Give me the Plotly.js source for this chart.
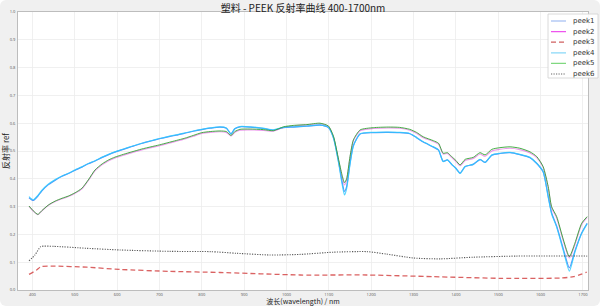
<!DOCTYPE html>
<html><head><meta charset="utf-8">
<script src="https://cdn.plot.ly/plotly-3.0.1.min.js"></script>
<style>html,body{margin:0;padding:0;background:#fff}#c{width:600px;height:306px;border-radius:6px;overflow:hidden}</style>
</head><body><div id="c"></div>
<script>
// Shared wavelength grid for peek1, peek2, peek4, peek5
const wl = [392,402,413,422,438,454,470,485,501,517,532,548,565,580,595,615,635,658,680,700,720,740,760,780,800,820,843,858,869,878,890,914,945,969,993,1016,1048,1079,1099,1111,1123,1131,1137,1142,1150,1158,1174,1205,1240,1267,1291,1307,1323,1347,1359,1370,1380,1390,1400,1410,1422,1441,1457,1469,1485,1504,1528,1551,1575,1591,1606,1618,1626,1638,1654,1668,1681,1697,1710];

const peek1 = [0.332,0.322,0.338,0.356,0.379,0.395,0.409,0.419,0.431,0.442,0.454,0.464,0.477,0.487,0.496,0.506,0.516,0.527,0.536,0.544,0.551,0.557,0.564,0.571,0.577,0.582,0.586,0.582,0.562,0.580,0.587,0.586,0.581,0.575,0.584,0.586,0.589,0.593,0.584,0.548,0.462,0.392,0.355,0.372,0.456,0.520,0.561,0.566,0.567,0.566,0.562,0.548,0.532,0.514,0.503,0.463,0.468,0.452,0.438,0.421,0.444,0.452,0.469,0.459,0.485,0.491,0.494,0.487,0.476,0.455,0.425,0.338,0.278,0.230,0.146,0.080,0.140,0.205,0.240];
const peek2 = [0.301,0.284,0.271,0.284,0.305,0.318,0.328,0.336,0.348,0.364,0.394,0.429,0.451,0.465,0.475,0.485,0.494,0.504,0.512,0.519,0.527,0.535,0.543,0.553,0.563,0.567,0.569,0.567,0.554,0.567,0.575,0.576,0.574,0.571,0.585,0.590,0.594,0.598,0.588,0.550,0.466,0.408,0.378,0.395,0.476,0.537,0.573,0.581,0.583,0.582,0.575,0.564,0.548,0.534,0.525,0.489,0.491,0.477,0.463,0.447,0.466,0.473,0.489,0.481,0.500,0.506,0.510,0.505,0.493,0.476,0.441,0.368,0.296,0.259,0.175,0.115,0.163,0.236,0.261];
const peek3_x = [392,410,420,450,528,607,725,843,1032,1190,1347,1504,1646,1678,1709];
const peek3 = [0.056,0.072,0.084,0.086,0.082,0.074,0.067,0.063,0.054,0.054,0.048,0.042,0.043,0.048,0.064];
const peek4 = [0.336,0.324,0.340,0.358,0.381,0.397,0.410,0.420,0.432,0.443,0.455,0.465,0.478,0.488,0.497,0.507,0.517,0.528,0.537,0.545,0.552,0.558,0.565,0.572,0.578,0.583,0.587,0.583,0.561,0.580,0.588,0.587,0.582,0.576,0.585,0.587,0.590,0.594,0.585,0.546,0.458,0.384,0.342,0.365,0.452,0.518,0.562,0.567,0.568,0.567,0.563,0.549,0.533,0.515,0.504,0.462,0.468,0.452,0.437,0.419,0.444,0.452,0.470,0.459,0.486,0.492,0.495,0.488,0.477,0.456,0.426,0.334,0.274,0.226,0.140,0.068,0.136,0.203,0.238];
const peek5 = [0.302,0.285,0.272,0.285,0.306,0.320,0.330,0.338,0.350,0.366,0.396,0.432,0.454,0.468,0.478,0.488,0.497,0.507,0.515,0.522,0.530,0.538,0.546,0.556,0.566,0.570,0.572,0.570,0.556,0.570,0.578,0.579,0.577,0.573,0.587,0.592,0.595,0.600,0.590,0.553,0.470,0.415,0.386,0.400,0.480,0.540,0.576,0.584,0.586,0.585,0.578,0.567,0.551,0.537,0.528,0.492,0.494,0.480,0.466,0.450,0.470,0.477,0.494,0.486,0.506,0.512,0.515,0.510,0.497,0.480,0.444,0.372,0.300,0.264,0.180,0.120,0.168,0.240,0.264];
const peek6_x = [392,406,420,450,528,607,725,820,883,961,1032,1111,1190,1237,1300,1363,1441,1544,1710];
const peek6 = [0.105,0.126,0.156,0.157,0.150,0.144,0.139,0.138,0.132,0.126,0.128,0.136,0.138,0.129,0.115,0.112,0.118,0.122,0.122];

const names = ['peek1','peek2','peek3','peek4','peek5','peek6'];
const xs = [wl, wl, peek3_x, wl, wl, peek6_x];
const ys = [peek1, peek2, peek3, peek4, peek5, peek6];
const colors = ['rgba(40,110,245,0.75)','rgba(220,50,220,0.5)','rgba(205,45,45,0.75)','rgba(40,200,255,0.8)','rgba(50,165,50,0.9)','rgba(60,60,60,0.85)'];
const widths = [1.2,1.1,1.3,1.2,1.0,1.1];
const legendColors = ['#8fb0f0','#ee55ee','#d06060','#88d8f8','#80d880','#666666'];
const dashes = ['solid','solid','5px,3px','solid','solid','1.2px,1.3px'];

const W=600,H=306,ml=18,mr=12,mt=12,mb=16;
const pw=W-ml-mr, ph=H-mt-mb;
const PX=p=>(p-ml)/pw, PY=p=>(H-mb-p)/ph;

const traces = names.map((n,i)=>({
  x: xs[i], y: ys[i], name: n, type:'scatter', mode:'lines',
  line:{color:colors[i], width:widths[i], dash:dashes[i], shape:'spline', smoothing:0.6},
  showlegend:false
}));

const shapes = [{type:'rect', xref:'paper', yref:'paper', x0:PX(548), x1:PX(598), y0:PY(14), y1:PY(78),
  fillcolor:'rgba(255,255,255,0.9)', line:{color:'#d0d0d0', width:0.8}, layer:'above'}];
const annotations = [];
names.forEach((n,i)=>{
  const yy = 21 + i*10.6;
  shapes.push({type:'line', xref:'paper', yref:'paper', x0:PX(551), x1:PX(566), y0:PY(yy), y1:PY(yy),
    line:{color:legendColors[i], width:1.2, dash:dashes[i]}, layer:'above'});
  annotations.push({xref:'paper', yref:'paper', x:PX(571), y:PY(yy), text:n, showarrow:false,
    xanchor:'left', yanchor:'middle', font:{size:7, color:'#333', family:'DejaVu Sans'}});
});

const tickvals = [400,500,600,700,800,900,1000,1100,1200,1300,1400,1500,1600,1700];
const ytickvals = [0,0.1,0.2,0.3,0.4,0.5,0.6,0.7,0.8,0.9,1.0];

const layout = {
  width:W, height:H, margin:{l:ml,r:mr,t:mt,b:mb},
  paper_bgcolor:'#f0f0f0', plot_bgcolor:'#ffffff',
  title:{text:'塑料 - PEEK 反射率曲线 400-1700nm', x:0.5, xref:'paper', y:0.985, yanchor:'top',
    font:{family:'Noto Sans CJK SC', size:10, color:'#222'}},
  xaxis:{range:[366,1712], tickvals:tickvals, ticktext:tickvals.map(String),
    tickfont:{size:4, color:'#555'}, showgrid:true, gridcolor:'#ececec', gridwidth:0.8,
    showline:true, mirror:true, linecolor:'#b0b0b0', linewidth:0.8, zeroline:false,
    ticks:'', ticklabelstandoff:0,
    title:{text:'波长(wavelength) / nm', standoff:3.5, font:{family:'Noto Sans CJK SC', size:7, color:'#222'}}},
  yaxis:{range:[0,1.0], tickvals:ytickvals, ticktext:ytickvals.map(v=>v.toFixed(1)),
    tickfont:{size:4, color:'#555'}, showgrid:true, gridcolor:'#ececec', gridwidth:0.8,
    showline:true, mirror:true, linecolor:'#b0b0b0', linewidth:0.8, zeroline:false,
    ticks:'', ticklabelstandoff:1,
    title:{text:'反射率 ref', standoff:3, font:{family:'Noto Sans CJK SC', size:8, color:'#222'}}},
  shapes:shapes, annotations:annotations
};
Plotly.newPlot('c', traces, layout, {displayModeBar:false, staticPlot:true});
</script></body></html>
